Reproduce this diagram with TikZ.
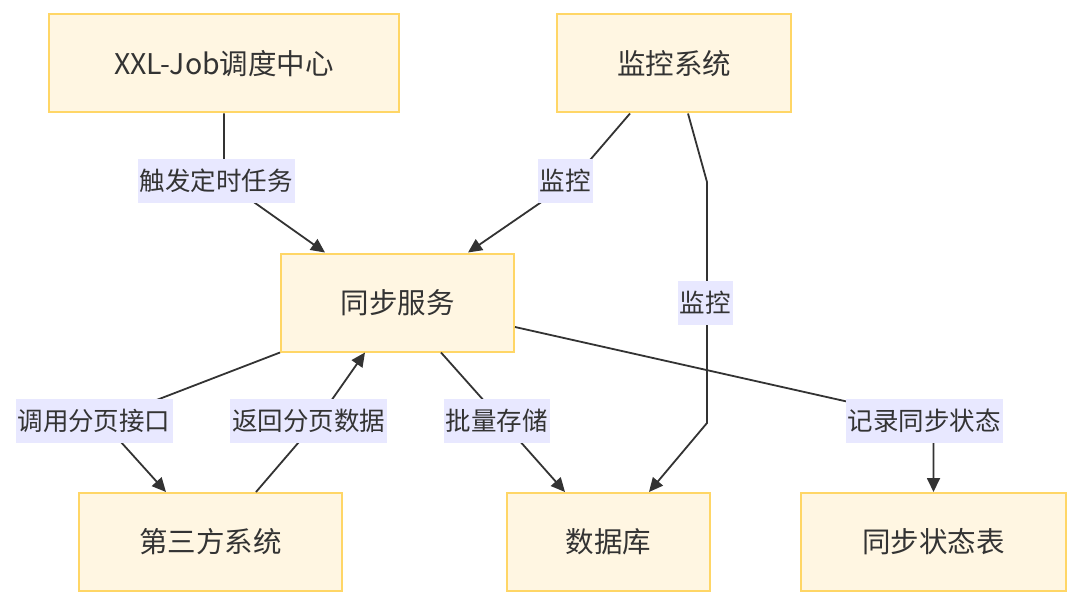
\documentclass[tikz,border=0pt]{standalone}
\usepackage{fontspec}
\setmainfont{Noto Sans CJK SC}
\usepackage{xcolor}
\usepackage{tikz}
\usetikzlibrary{arrows.meta}
\definecolor{flowfill}{HTML}{FFF6E2}
\definecolor{flowline}{HTML}{FFD666}
\definecolor{flowlbl}{HTML}{E8E8FF}
\definecolor{flowdark}{HTML}{333333}
\tikzset{
  box/.style={draw=flowline,line width=2pt,fill=flowfill,text=flowdark,inner sep=0pt,minimum height=98pt,font=\fontsize{28.5}{34}\selectfont},
  lbl/.style={fill=flowlbl,text=flowdark,inner xsep=2pt,inner ysep=0pt,minimum height=44pt,font=\fontsize{25.5}{30}\selectfont},
  ar/.style={-{Triangle[length=14pt,width=13pt]},draw=flowdark,line width=1.8pt},
}
\begin{document}
\begin{tikzpicture}[x=1pt,y=-1pt]
  \useasboundingbox (0,0) rectangle (1080,607);
  \node[box,minimum width=350pt] (xxl) at (224,63.5) {XXL-Job调度中心};
  \node[box,minimum width=234pt] (mon) at (674,63.5) {监控系统};
  \node[box,minimum width=233pt] (svc) at (397.5,302.5) {同步服务};
  \node[box,minimum width=263pt] (third) at (210.5,542) {第三方系统};
  \node[box,minimum width=203pt] (db) at (608.5,542) {数据库};
  \node[box,minimum width=265pt] (stat) at (933.5,542) {同步状态表};
  % scheduler and monitoring
  \draw[ar] (xxl.south) -- (224,181) node[lbl,xshift=-8pt] (trig) {触发定时任务} -- ([xshift=-72.5pt]svc.north);
  \draw[ar] ([xshift=-44pt]mon.south) -- (572,181) node[lbl,xshift=-7pt] (mon1) {监控} -- ([xshift=70.5pt]svc.north);
  \draw[ar] ([xshift=14pt]mon.south) -- (707,182) -- node[lbl,xshift=-2pt] (mon2) {监控} (707,423) -- ([xshift=40.5pt]db.north);
  % sync service
  \draw[ar] (svc.south west) -- (102,421) node[lbl,xshift=-8pt] (call) {调用分页接口} -- ([xshift=-44.5pt]third.north);
  \draw[ar] ([xshift=45.5pt]third.north) -- (317,421) node[lbl,xshift=-8.5pt] (ret) {返回分页数据} -- ([xshift=-32.5pt]svc.south);
  \draw[ar] ([xshift=43.5pt]svc.south) -- (502,421) node[lbl,xshift=-5.5pt] (save) {批量存储} -- ([xshift=-43.5pt]db.north);
  \draw[ar] ([yshift=-24.5pt]svc.east) -- (933.5,421) node[lbl,xshift=-9.5pt] (rec) {记录同步状态} -- (stat.north);
\end{tikzpicture}
\end{document}
